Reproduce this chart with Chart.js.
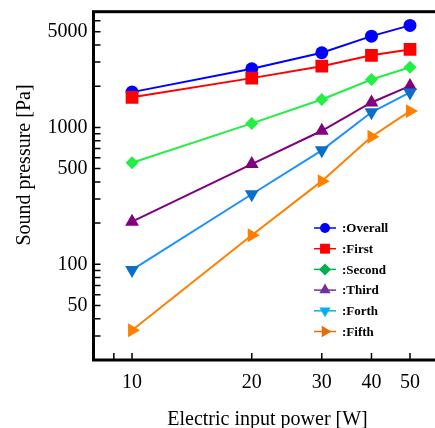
<!DOCTYPE html>
<html>
<head>
<meta charset="utf-8">
<script src="https://cdn.jsdelivr.net/npm/chart.js@4/dist/chart.umd.min.js"></script>
<style>
  html, body { margin: 0; padding: 0; background: #fff; overflow: hidden; }
  #wrap { width: 435px; height: 428px; overflow: hidden; }
</style>
</head>
<body>
<div id="wrap"><canvas id="chart" width="460" height="428"></canvas></div>
<script>
// x values (electric input power, W)
const powers = [10, 20, 30, 40, 50];

// sound pressure, Pa
const overall = [1810, 2680, 3510, 4640, 5560];
const first = [1660, 2290, 2800, 3360, 3710];
const second = [552, 1070, 1600, 2240, 2750];
const third = [205, 540, 945, 1520, 2010];
const forth = [91, 325, 680, 1290, 1800];
const fifth = [33, 163, 405, 855, 1315];

// axis labels and tick marks
const xLabelTicks = [10, 20, 30, 40, 50];
const xTickMarks = [9, 10, 20, 30, 40, 50];
const yLabelTicks = [50, 100, 500, 1000, 5000];
const yTickMarks = [30, 40, 50, 60, 70, 80, 90, 100, 200, 300, 400, 500, 600, 700, 800, 900,
                    1000, 2000, 3000, 4000, 5000, 6000];

const serif = '"Liberation Serif", "Times New Roman", serif';

function toPoints(vals) {
    return powers.map((p, i) => ({x: p, y: vals[i]}));
}

// series styles: line colour, marker colour, marker shape, legend colour
const series = [
    {label: ':Overall', data: overall, line: '#0000ff', fill: '#0000ff', legend: '#0000ff', style: 'circle', rot: 0, r: 6.5, lr: 5},
    {label: ':First', data: first, line: '#ff0000', fill: '#ff0000', legend: '#ff0000', style: 'rect', rot: 0, r: 9, lr: 7},
    {label: ':Second', data: second, line: '#22ee44', fill: '#22ee44', legend: '#00b050', style: 'rectRot', rot: 0, r: 6.5, lr: 6},
    {label: ':Third', data: third, line: '#800080', fill: '#800080', legend: '#7030a0', style: 'triangle', rot: 0, r: 8, lr: 6.5},
    {label: ':Forth', data: forth, line: '#1e90ff', fill: '#0a6fc8', legend: '#00b0f0', style: 'triangle', rot: 180, r: 8, lr: 6.5},
    {label: ':Fifth', data: fifth, line: '#ff8000', fill: '#ff8000', legend: '#e46c0a', style: 'triangle', rot: 90, r: 8, lr: 6.5}
];

const framePlugin = {
    id: 'frame',
    afterDraw(chart) {
        const ctx = chart.ctx;
        const a = chart.chartArea;
        const x = chart.scales.x;
        const y = chart.scales.y;
        ctx.save();

        // inward tick marks
        ctx.strokeStyle = '#000';
        ctx.lineWidth = 1.5;
        ctx.beginPath();
        xTickMarks.forEach(v => {
            const px = x.getPixelForValue(v);
            ctx.moveTo(px, a.bottom);
            ctx.lineTo(px, a.bottom - 7);
        });
        yTickMarks.forEach(v => {
            const py = y.getPixelForValue(v);
            ctx.moveTo(a.left, py);
            ctx.lineTo(a.left + 7, py);
        });
        ctx.stroke();

        // box
        ctx.lineWidth = 3;
        ctx.strokeRect(a.left, a.top, a.right - a.left, a.bottom - a.top);

        // y axis title
        ctx.fillStyle = '#000';
        ctx.font = '20px ' + serif;
        ctx.textAlign = 'center';
        ctx.textBaseline = 'middle';
        ctx.save();
        ctx.translate(24.5, 165);
        ctx.rotate(-Math.PI / 2);
        ctx.fillText('Sound pressure [Pa]', 0, 0);
        ctx.restore();

        // legend inside the plot
        ctx.font = 'bold 13px ' + serif;
        ctx.textAlign = 'left';
        series.forEach((s, i) => {
            const ly = 228 + i * 20.7;
            ctx.strokeStyle = s.legend;
            ctx.fillStyle = s.legend;
            ctx.lineWidth = 1.5;
            ctx.beginPath();
            ctx.moveTo(314, ly);
            ctx.lineTo(336, ly);
            ctx.stroke();
            Chart.helpers.drawPoint(ctx, {pointStyle: s.style, rotation: s.rot, radius: s.lr, borderWidth: 0}, 325, ly);
            ctx.fillStyle = '#000';
            ctx.fillText(s.label, 342, ly + 1);
        });

        ctx.restore();
    }
};

const ctx = document.getElementById('chart').getContext('2d');
const chart = new Chart(ctx, {
    type: 'line',
    data: {
        datasets: series.map((s, i) => ({
            label: s.label,
            data: toPoints(s.data),
            borderColor: s.line,
            backgroundColor: s.fill,
            borderWidth: 2,
            pointStyle: s.style,
            rotation: s.rot,
            pointRadius: s.r,
            pointBackgroundColor: s.fill,
            pointBorderColor: s.fill,
            pointBorderWidth: 0,
            tension: 0,
            fill: false,
            order: series.length - i
        }))
    },
    options: {
        responsive: false,
        animation: false,
        layout: {
            padding: {left: 0, top: 11.7, right: 18.5, bottom: 0}
        },
        plugins: {
            legend: {display: false},
            tooltip: {enabled: false}
        },
        scales: {
            x: {
                type: 'logarithmic',
                min: 8,
                max: 60,
                afterBuildTicks: scale => {
                    scale.ticks = xLabelTicks.map(v => ({value: v}));
                },
                afterFit: scale => {
                    scale.height = 68;
                    scale.paddingLeft = 0;
                    scale.paddingRight = 0;
                },
                grid: {display: false, drawTicks: false},
                border: {display: false},
                ticks: {
                    autoSkip: false,
                    maxRotation: 0,
                    padding: 11,
                    color: '#000',
                    font: {family: serif, size: 20},
                    callback: v => String(v)
                },
                title: {
                    display: true,
                    text: 'Electric input power [W]',
                    color: '#000',
                    font: {family: serif, size: 20, lineHeight: 1},
                    padding: {top: 0, bottom: -2}
                }
            },
            y: {
                type: 'logarithmic',
                min: 20,
                max: 7000,
                afterBuildTicks: scale => {
                    scale.ticks = yLabelTicks.map(v => ({value: v}));
                },
                afterFit: scale => {
                    scale.width = 93.5;
                    scale.paddingTop = 0;
                    scale.paddingBottom = 0;
                },
                grid: {display: false, drawTicks: false},
                border: {display: false},
                ticks: {
                    autoSkip: false,
                    padding: 6,
                    color: '#000',
                    font: {family: serif, size: 20},
                    callback: v => String(v)
                }
            }
        }
    },
    plugins: [framePlugin]
});
</script>
</body>
</html>
